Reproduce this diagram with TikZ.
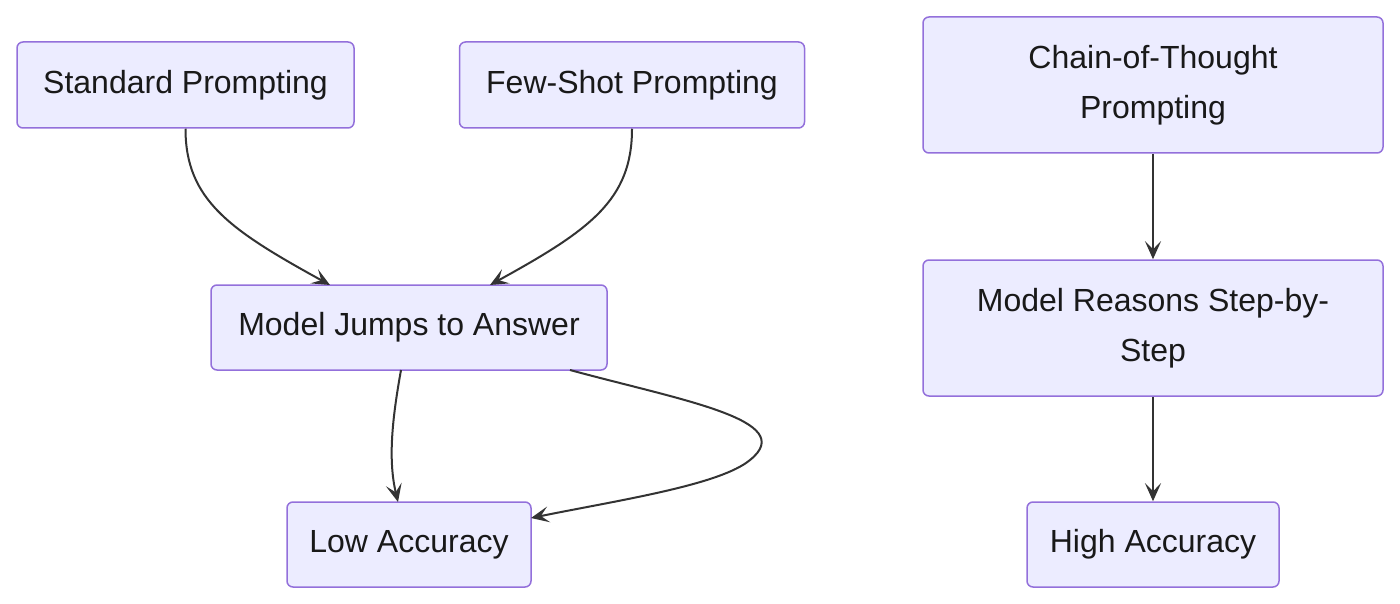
\documentclass[tikz,border=0pt]{standalone}
\usepackage{fontspec}
\setmainfont{Liberation Sans}
\usetikzlibrary{arrows.meta}
\definecolor{nfill}{HTML}{ECECFF}
\definecolor{nline}{HTML}{9370DB}
\definecolor{eline}{HTML}{333333}
\begin{document}
\begin{tikzpicture}[x=1pt,y=-1pt,
  box/.style={draw=nline,fill=nfill,line width=1.5pt,rounded corners=6pt,align=center,
    font=\fontsize{32}{50}\selectfont,text=black!90,inner sep=0pt},
  edge/.style={draw=eline,line width=2pt,-{Stealth[length=18pt,width=16pt,inset=8pt]}}]
\useasboundingbox (0,0) rectangle (1400,604);
\node[box,minimum width=337pt,minimum height=86pt] (sp) at (185.5,85) {Standard Prompting};
\node[box,minimum width=345pt,minimum height=86pt] (fs) at (632,85) {Few-Shot Prompting};
\node[box,minimum width=460pt,minimum height=136pt] (cot) at (1153,85) {Chain-of-Thought\\Prompting};
\node[box,minimum width=396pt,minimum height=85pt] (mj) at (409,327.5) {Model Jumps to Answer};
\node[box,minimum width=460pt,minimum height=136pt] (mr) at (1153,328) {Model Reasons Step-by-\\Step};
\node[box,minimum width=244pt,minimum height=85pt] (la) at (409,544.5) {Low Accuracy};
\node[box,minimum width=252pt,minimum height=85pt] (ha) at (1153,544.5) {High Accuracy};
\draw[edge] (sp.south) .. controls (185.5,200) and (230,230) .. (330,285);
\draw[edge] (fs.south) .. controls (632,200) and (590,230) .. (490,285);
\draw[edge] (401,370) .. controls (392,420) and (388,460) .. (398,502);
\draw[edge] (570,370) .. controls (680,400) and (800,420) .. (750,460) .. controls (720,485) and (620,500) .. (531,518);
\draw[edge] (cot.south) -- (mr.north);
\draw[edge] (mr.south) -- (ha.north);
\end{tikzpicture}
\end{document}
